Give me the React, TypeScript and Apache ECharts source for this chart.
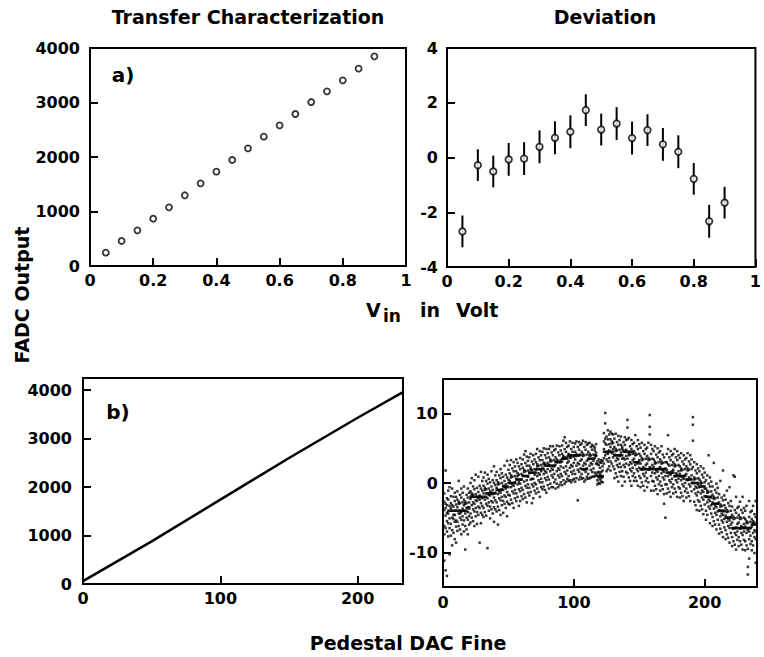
import React, { useEffect, useRef } from 'react';
import * as echarts from 'echarts';

// ---- data ----
const transferX = [0.05, 0.1, 0.15, 0.2, 0.25, 0.3, 0.35, 0.4, 0.45, 0.5, 0.55, 0.6, 0.65, 0.7, 0.75, 0.8, 0.85, 0.9];
const transferY = [245, 459, 654, 868, 1076, 1297, 1517, 1731, 1945, 2159, 2373, 2581, 2789, 3009, 3205, 3407, 3621, 3847];
const deviationY = [-2.7, -0.28, -0.51, -0.07, -0.04, 0.39, 0.72, 0.94, 1.73, 1.02, 1.24, 0.71, 1.0, 0.48, 0.21, -0.78, -2.33, -1.65];
const deviationErr = [0.58, 0.58, 0.58, 0.6, 0.6, 0.6, 0.6, 0.6, 0.58, 0.58, 0.6, 0.6, 0.58, 0.6, 0.6, 0.58, 0.6, 0.58];
const pedestalX = [0, 50, 100, 150, 200, 233];
const pedestalY = [60, 880, 1740, 2600, 3430, 3960];
// rows: [pedestal DAC value, deviation samples...]
const scatterRows: number[][] = [
  [1, -3.9, -6.2, -2.7, -7.4, -1.5, -11.2], [2, -4.7, -3.0, -6.5, -3.6, 1.8, -12.6], [3, -3.2, -5.5, -2.2, -7.0, -4.3, -13.4],
  [4, -4.4, -2.4, -5.8, -1.1, -7.7, -4.0], [5, -4.0, -6.5, -3.3, -0.6, -5.1, -10.3], [6, -3.6, -5.9, -2.9, -7.6, -4.0, -1.9],
  [7, -5.0, -3.2, -6.8, -4.0, -0.8, -9.0], [8, -3.4, -5.2, -2.0, -7.2, -4.0, -4.6], [9, -4.6, -2.6, -5.6, -1.4, -8.1, -4.0],
  [10, -4.0, -6.3, -3.1, -2.0, -5.4, -8.6], [11, -3.5, -5.6, -2.4, -6.9, -4.0, -1.2], [12, -4.4, -2.7, -6.2, -3.0, 0.3, -4.0],
  [13, -2.9, -5.0, -1.7, -6.7, -4.0, -4.4], [14, -4.2, -2.1, -5.3, -0.8, -7.4, -4.0], [15, -3.7, -6.0, -2.8, -1.4, -4.8, -4.0],
  [16, -3.2, -5.4, -2.4, -7.0, -4.0, -0.5], [17, -4.4, -2.7, -6.2, -3.0, -9.6, -4.0], [18, -2.9, -5.0, -1.7, -6.7, -3.6, -4.0],
  [19, -4.2, -2.1, -5.3, -0.8, -7.4, -3.5], [20, -3.7, -6.0, -2.8, -1.4, -4.8, -3.5], [21, -2.3, -4.4, -1.2, -5.7, 0.0, -2.0],
  [22, -3.2, -1.5, -5.0, -1.8, 0.7, -2.0], [23, -1.7, -3.8, -0.5, -5.5, -2.8, -2.0], [24, -3.0, -0.9, -4.1, 0.4, -6.2, -2.0],
  [25, -2.5, -4.8, -1.6, 1.2, -3.6, -2.0], [26, -2.0, -4.2, -0.7, -5.9, -2.6, -2.0], [27, -3.4, -1.3, -4.6, -2.2, 0.9, -2.0],
  [28, -1.8, -3.6, -0.4, -8.6, -2.4, -2.0], [29, -2.9, -0.8, -4.3, 1.6, -5.8, -2.0], [30, -2.2, -4.6, -1.1, 0.3, -3.3, -2.0],
  [31, -1.5, -3.6, -0.4, -4.9, 0.8, -2.0], [32, -2.4, -0.7, -4.2, -1.0, 1.5, -2.0], [33, -0.9, -3.0, 0.3, -4.7, -2.0, -1.5],
  [34, -2.2, -0.1, -3.3, 1.2, -9.4, -1.5], [35, -1.7, -4.0, -0.8, 0.6, -2.8, -1.5], [36, -1.2, -3.4, 0.1, -5.1, -1.8, -1.5],
  [37, -2.6, -0.5, -3.8, -1.4, 1.7, -1.5], [38, -1.0, -2.8, 0.4, -4.4, -1.6, -1.5], [39, -2.1, 0.0, -3.5, 2.4, -5.6, -1.5],
  [40, -1.4, -3.8, -0.3, 1.1, -2.5, -1.5], [41, -0.7, -2.8, 0.4, -4.1, 1.6, -1.0], [42, -1.6, 0.1, -3.4, -0.2, -6.0, -1.0],
  [43, -0.1, -2.2, 1.1, -3.9, -1.2, -1.0], [44, -1.4, 0.7, -2.5, 2.0, -4.6, -1.0], [45, -0.9, -3.2, 0.0, 1.4, -2.0, -1.0],
  [46, -0.4, -2.6, 0.9, -4.3, -1.0, -0.5], [47, -1.8, 0.3, -3.0, -0.6, 2.5, -0.5], [48, -0.2, -2.0, 1.2, -3.6, -0.8, -0.5],
  [49, -1.3, 0.8, -2.7, 3.2, -4.8, -0.5], [50, -0.6, -3.0, 0.5, 1.9, -1.7, 0.0], [51, 0.3, -1.8, 1.4, -3.1, 2.6, 0.0],
  [52, -0.6, 1.1, -2.4, 0.8, 3.3, 0.0], [53, 0.9, -1.2, 2.1, -2.9, -0.2, 0.0], [54, -0.4, 1.7, -1.5, 3.0, -3.6, 0.0],
  [55, 0.1, -2.2, 1.0, 2.4, -1.0, 0.0], [56, 0.6, -1.5, 1.7, -2.6, 3.4, 0.5], [57, -0.2, 1.4, -2.0, 1.0, 2.9, 0.5],
  [58, 1.2, -0.9, 2.4, -3.3, 0.1, 0.5], [59, -0.1, 2.0, -1.2, 3.6, -2.6, 0.5], [60, 0.5, -1.9, 1.3, 2.7, -0.7, 0.5],
  [61, 1.1, -1.0, 2.2, -2.3, 3.4, 1.0], [62, 0.2, 1.9, -1.6, 1.6, 4.1, 1.0], [63, 1.7, -0.4, 2.9, -2.1, 4.6, 1.0],
  [64, 0.4, 2.5, -0.7, 3.8, -2.8, 1.0], [65, 0.9, -1.4, 1.8, 3.2, -0.2, 1.0], [66, 1.4, -0.7, 2.5, -1.8, 3.7, 1.5],
  [67, 0.5, 2.2, -1.3, 1.9, 4.2, 1.5], [68, 1.9, -0.2, 3.1, -2.9, 0.6, 1.5], [69, 0.6, 2.7, -0.5, 4.0, -2.2, 1.5],
  [70, 1.2, -1.1, 2.0, 3.4, 0.0, 1.5], [71, 1.9, -0.2, 3.0, -1.5, 4.2, 1.5], [72, 1.0, 2.7, -0.8, 2.4, 4.9, 2.0],
  [73, 2.5, 0.4, 3.7, -1.3, 1.4, 2.0], [74, 1.2, 3.3, 0.1, 4.6, -2.0, 2.0], [75, 1.7, -0.6, 2.6, 4.0, 0.6, 2.0],
  [76, 2.2, 0.1, 3.3, -0.9, 4.5, 2.0], [77, 1.3, 2.9, -0.5, 2.7, 5.0, 2.0], [78, 2.8, 0.7, 4.0, -1.0, 1.7, 2.5],
  [79, 1.5, 3.6, 0.4, 4.9, -1.4, 2.5], [80, 2.0, -0.3, 2.9, 4.3, 0.9, 2.5], [81, 2.6, 0.5, 3.7, -0.8, 4.9, 2.5],
  [82, 1.7, 3.4, -0.1, 3.1, 5.3, 2.5], [83, 3.2, 1.1, 4.4, -0.6, 2.1, 2.5], [84, 1.9, 4.0, 0.8, 5.3, -0.6, 2.5],
  [85, 2.4, 0.1, 3.3, 4.7, 1.3, 2.5], [86, 2.6, 0.5, 3.7, -0.8, 4.9, 3.0], [87, 1.7, 3.4, -0.1, 3.1, 5.4, 3.0],
  [88, 3.2, 1.1, 4.4, -0.6, 2.1, 3.0], [89, 1.9, 4.0, 0.8, 5.3, -0.3, 3.0], [90, 2.4, 0.1, 3.3, 4.7, 1.3, 3.0],
  [91, 3.1, 1.0, 4.2, -0.3, 5.4, 3.5], [92, 2.2, 3.9, 0.4, 3.6, 6.1, 3.5], [93, 3.7, 1.6, 4.9, -0.1, 6.6, 3.5],
  [94, 2.4, 4.5, 1.3, 5.8, 0.2, 3.5], [95, 2.9, 0.6, 3.8, 5.2, 1.8, 3.5], [96, 3.1, 1.0, 4.2, 0.3, 5.4, 4.0],
  [97, 2.2, 3.9, 0.4, 3.6, 6.0, 4.0], [98, 3.7, 1.6, 4.9, 0.1, 2.6, 4.0], [99, 2.4, 4.5, 1.3, 5.8, 0.4, 4.0],
  [100, 2.9, 0.6, 3.8, 5.2, 1.8, 4.0], [101, 3.4, 1.3, 4.5, 0.2, 5.7, 4.0], [102, 2.5, 4.2, 0.7, 3.9, 6.0, 4.0],
  [103, 4.0, 1.9, 5.2, -2.5, 2.9, 4.0], [104, 2.7, 4.8, 1.6, 5.9, 0.5, 4.0], [105, 3.2, 0.9, 4.1, 5.5, 2.1, 4.0],
  [106, 3.4, 1.3, 4.5, 0.6, 5.7, 2.0], [107, 2.5, 4.2, 0.7, 3.9, 6.1, 2.0], [108, 4.0, 1.9, 5.2, 0.2, 2.9, 2.0],
  [109, 2.7, 4.8, 1.6, 5.9, 0.5, 2.0], [110, 3.2, 0.9, 4.1, 5.5, 2.1, 2.0], [111, 3.4, 1.3, 4.5, 0.6, 5.7, 3.5],
  [112, 2.5, 4.2, 0.7, 3.9, 5.8, 3.5], [113, 4.0, 1.9, 5.2, 0.8, 2.9, 3.5], [114, 2.7, 4.8, 1.6, 5.5, 0.9, 3.5],
  [115, 3.2, 0.9, 4.1, 5.3, 2.1, 3.5], [116, 3.6, 1.5, 4.7, 1.0, 5.1, 4.0], [117, 2.8, 4.4, 1.2, 3.9, 5.6, 4.0],
  [118, 1.5, -0.2, 2.7, 0.4, 3.1, 1.0], [119, 0.8, 2.6, 0.0, 3.4, 1.6, 1.0], [120, 1.3, -0.1, 2.2, 3.0, 0.5, 1.0],
  [121, 1.6, 0.2, 2.9, 0.7, 3.3, 1.0], [122, 0.9, 2.4, 0.1, 3.2, 1.8, 1.0], [123, 4.9, 2.8, 6.0, 3.6, 7.2, 4.5],
  [124, 4.0, 5.7, 10.1, 8.6, 6.4, 4.5], [125, 5.5, 3.4, 6.7, 1.7, 4.4, 4.5], [126, 4.2, 6.3, 3.1, 7.6, 2.0, 4.5],
  [127, 4.7, 2.4, 5.6, 7.0, 3.6, 4.5], [128, 5.2, 3.1, 6.3, 1.8, 7.4, 4.5], [129, 4.3, 6.0, 2.8, 5.7, 7.1, 4.5],
  [130, 5.8, 3.7, 7.0, 2.4, 4.9, 4.5], [131, 4.1, 2.0, 5.2, 0.7, 6.4, 4.0], [132, 3.2, 4.9, 1.4, 4.6, 7.1, 4.0],
  [133, 4.7, 2.6, 5.9, 0.9, 3.6, 4.0], [134, 3.4, 5.5, 2.3, 6.8, 0.2, 4.0], [135, 3.9, 1.6, 4.8, 6.2, 2.8, 4.0],
  [136, 4.4, 2.3, 5.5, 1.0, 6.7, 4.0], [137, 3.5, 5.2, 1.7, 4.9, -0.4, 4.0], [138, 4.7, 2.6, 5.9, 0.9, 3.6, 4.5],
  [139, 3.4, 5.5, 2.3, 6.6, 0.2, 4.5], [140, 3.9, 1.6, 4.8, 6.2, 2.8, 4.5], [141, 3.5, 1.4, 9.1, 8.0, 6.3, 4.5],
  [142, 2.6, 4.3, 0.8, 4.0, 6.5, 4.5], [143, 4.1, 2.0, 5.3, 0.3, 3.0, 4.5], [144, 2.8, 4.9, 1.7, 6.2, -0.4, 4.5],
  [145, 3.3, 1.0, 4.2, 5.6, 2.2, 4.5], [146, 3.5, 1.4, 4.6, 0.3, 5.8, 3.0], [147, 2.6, 4.3, 0.8, 4.0, 6.9, 3.0],
  [148, 4.1, 2.0, 5.3, 0.3, 3.0, 3.0], [149, 2.8, 4.9, 1.7, 6.2, -0.4, 3.0], [150, 3.3, 1.0, 4.2, 5.6, 2.2, 3.0],
  [151, 2.8, 0.7, 3.9, -0.6, 5.1, 2.0], [152, 1.9, 3.6, 0.1, 3.3, 5.8, 2.0], [153, 3.4, 1.3, 4.6, -0.4, 2.3, 2.0],
  [154, 2.1, 4.2, 1.0, 5.5, -1.1, 2.0], [155, 2.6, 0.3, 3.5, 4.9, 1.5, 2.0], [156, 2.8, 0.7, 3.9, -0.6, 5.1, 2.0],
  [157, 1.9, 3.6, 0.1, 3.3, 5.8, 2.0], [158, 3.4, 9.8, 8.1, 7.0, 2.3, 2.0], [159, 2.1, 4.2, 1.0, 5.5, -1.1, 2.0],
  [160, 2.6, 0.3, 3.5, 4.9, 1.5, 2.0], [161, 2.3, 0.2, 3.4, -1.1, 4.6, 2.0], [162, 1.4, 3.1, -0.4, 2.8, 5.3, 2.0],
  [163, 2.9, 0.8, 4.1, -0.9, 1.8, 2.0], [164, 1.6, 3.7, 0.5, 5.0, -1.6, 2.0], [165, 2.1, -0.2, 3.0, 4.4, 1.0, 2.0],
  [166, 2.3, 0.2, 3.4, -1.1, 4.6, 2.0], [167, 1.4, 3.1, -0.4, 2.8, 5.3, 2.0], [168, 2.9, 0.8, 4.1, -0.9, 1.8, 2.0],
  [169, 1.6, 3.7, 0.5, -3.0, -1.6, 2.0], [170, 2.1, -0.2, 3.0, -5.0, 1.0, 2.0], [171, 1.9, -0.2, 3.0, -1.5, 4.2, 1.5],
  [172, 1.0, 2.7, -0.8, 6.9, 4.9, 1.5], [173, 2.5, 0.4, 3.7, -1.3, 1.4, 1.5], [174, 1.2, 3.3, 0.1, 4.6, -2.0, 1.5],
  [175, 1.7, -0.6, 2.6, 4.0, 0.6, 1.5], [176, 1.9, -0.2, 3.0, -1.5, 4.2, 1.5], [177, 1.0, 2.7, -0.8, 2.4, 4.9, 1.0],
  [178, 2.5, 0.4, 3.7, -1.3, 1.4, 1.0], [179, 1.2, 3.3, 0.1, 4.6, -2.0, 1.0], [180, 1.7, -0.6, 2.6, 4.0, 0.6, 1.0],
  [181, 1.3, -0.8, 2.4, -2.1, 3.6, 1.0], [182, 0.4, 2.1, -1.4, 1.8, 4.3, 1.0], [183, 1.9, -0.2, 3.1, -1.9, 0.8, 1.0],
  [184, 0.6, 2.7, -0.5, 4.0, -2.6, 1.0], [185, 1.1, -1.2, 2.0, 3.4, 0.0, 1.0], [186, 1.3, -0.8, 2.4, -2.1, 3.6, 0.5],
  [187, 0.4, 2.1, -1.4, 1.8, 4.3, 0.5], [188, 1.9, -0.2, 3.1, -1.9, 0.8, 0.5], [189, 0.6, 2.7, -0.5, 4.0, -2.6, 0.5],
  [190, 1.1, -1.2, 2.0, 3.4, 0.0, 0.5], [191, 0.0, 9.5, 8.4, 6.1, 2.3, 0.0], [192, -0.9, 0.8, -2.7, 0.5, 3.0, 0.0],
  [193, 0.6, -1.5, 1.8, -3.2, -0.5, 0.0], [194, -0.7, 1.4, -1.8, 2.7, -3.9, 0.0], [195, -0.2, -2.5, 0.7, 2.1, -1.3, 0.0],
  [196, -0.6, -2.7, 0.5, -4.0, 1.7, -0.5], [197, -1.5, 0.2, -3.3, -0.1, 2.4, -0.5], [198, 0.0, -2.1, 1.2, -3.8, -1.1, -0.5],
  [199, -1.3, 0.8, -2.4, 2.1, -4.5, -0.5], [200, -0.8, -3.1, 0.1, 1.5, -1.9, -0.5], [201, -1.9, -4.0, -0.8, -5.3, 0.4, -2.0],
  [202, -2.8, -1.1, -4.6, -1.4, 1.1, -2.0], [203, -1.3, -3.4, -0.1, 4.0, -2.4, -2.0], [204, -2.6, -0.5, -3.7, 0.8, -5.8, -2.0],
  [205, -2.1, -4.4, -1.2, 0.2, -3.2, -2.0], [206, -2.8, -4.9, -1.7, -6.2, -0.5, -3.0], [207, -3.7, -2.0, -5.5, -2.3, 2.9, -3.0],
  [208, -2.2, -4.3, -1.0, -6.0, -3.3, -3.0], [209, -3.5, -1.4, -4.6, -0.1, -6.7, -3.0], [210, -3.0, -5.3, -2.1, -0.7, -4.1, -3.0],
  [211, -3.9, -6.0, -2.8, -7.3, -1.6, -4.0], [212, -4.8, -3.1, -6.6, -3.4, 0.3, -4.0], [213, -3.3, -5.4, -2.1, -7.1, -4.4, -4.0],
  [214, -4.6, -2.5, -5.7, 1.8, -7.8, -4.0], [215, -4.1, -6.4, -3.2, -1.8, -5.2, -4.0], [216, -4.7, -6.8, -3.6, -8.1, -2.4, -5.0],
  [217, -5.6, -3.9, -7.4, -4.2, -1.1, -5.0], [218, -4.1, -6.2, -2.9, -7.9, -5.2, -5.0], [219, -5.4, -3.3, -6.5, -0.6, -8.6, -5.0],
  [220, -4.9, -7.2, -4.0, -2.6, -6.0, -5.0], [221, -5.7, -7.8, -4.6, -9.1, -3.4, -6.5], [222, -6.6, -4.9, -8.4, -5.2, 1.1, -6.5],
  [223, -5.1, -7.2, -3.9, -8.9, 0.9, -6.5], [224, -6.4, -4.3, -7.5, -2.0, -9.6, -6.5], [225, -5.9, -8.2, -5.0, -3.6, -7.0, -6.5],
  [226, -5.7, -7.8, -4.6, -9.1, -3.4, -6.5], [227, -6.6, -4.9, -8.4, -5.2, -2.7, -6.5], [228, -5.1, -7.2, -3.9, -8.9, -6.2, -6.5],
  [229, -6.4, -4.3, -7.5, -2.0, -9.6, -6.5], [230, -5.9, -8.2, -5.0, -3.6, -7.0, -6.5], [231, -6.3, -8.4, -5.2, -9.7, -4.0, -6.5],
  [232, -7.2, -5.5, -9.0, -5.8, -3.3, -6.5], [233, -5.7, -12.1, -13.2, -9.5, -6.8, -6.5], [234, -7.0, -4.9, -8.1, -2.6, -10.9, -6.5],
  [235, -6.5, -8.8, -5.6, -4.2, -7.6, -6.5], [236, -6.3, -8.4, -5.2, -9.7, -4.0, -6.0], [237, -7.2, -5.5, -9.0, -5.8, -3.3, -6.0],
  [238, -5.7, -7.8, -4.5, -10.1, -6.8, -6.0], [239, -7.0, -4.9, -8.1, -2.6, -11.5, -6.0],
];

// tick values
const voltTicks = [0, 0.2, 0.4, 0.6, 0.8, 1];
const transferYTicks = [0, 1000, 2000, 3000, 4000];
const deviationYTicks = [-4, -2, 0, 2, 4];
const dacTicks = [0, 100, 200];
const pedestalYTicks = [0, 1000, 2000, 3000, 4000];
const scatterYTicks = [-10, 0, 10];

const FONT = 'DejaVu Sans';

function axis(gridIndex: number, min: number, max: number, ticks: number[], margin: number) {
  return {
    type: 'value',
    gridIndex,
    min,
    max,
    axisLine: { show: false, onZero: false },
    splitLine: { show: false },
    axisTick: { show: true, inside: true, length: 8, customValues: ticks, lineStyle: { color: '#000', width: 2 } },
    axisLabel: {
      show: true,
      customValues: ticks,
      margin,
      color: '#000',
      fontFamily: FONT,
      fontWeight: 'bold',
      fontSize: 16,
      formatter: (v: number) => String(v),
    },
  };
}

function txt(text: string, x: number, y: number, size: number, align = 'center', rotation = 0) {
  return {
    type: 'text',
    x,
    y,
    rotation,
    style: { text, fill: '#000', fontFamily: FONT, fontWeight: 'bold', fontSize: size, align, verticalAlign: 'middle' },
  };
}

export default function App() {
  const ref = useRef<HTMLDivElement>(null);
  useEffect(() => {
    if (!ref.current) return;
    const chart = echarts.init(ref.current, undefined, { renderer: 'svg' });
    const scatterData: number[][] = [];
    scatterRows.forEach((row) => {
      for (let i = 1; i < row.length; i++) scatterData.push([row[0], row[i]]);
    });
    const gridBase = { show: true, borderColor: '#000', borderWidth: 2, backgroundColor: 'transparent', containLabel: false };
    const option: any = {
      animation: false,
      backgroundColor: '#fff',
      grid: [
        { ...gridBase, left: 90, top: 48, width: 316, height: 218 },
        { ...gridBase, left: 447, top: 48, width: 315, height: 219 },
        { ...gridBase, left: 83, top: 378, width: 320, height: 206 },
        { ...gridBase, left: 443, top: 379, width: 314, height: 208 },
      ],
      xAxis: [
        axis(0, 0, 1, voltTicks, 6),
        axis(1, 0, 1, voltTicks, 6),
        axis(2, 0, 233, dacTicks, 6),
        axis(3, 0, 240, dacTicks, 7),
      ],
      yAxis: [
        axis(0, 0, 4000, transferYTicks, 10),
        axis(1, -4, 4, deviationYTicks, 9),
        axis(2, 0, 4250, pedestalYTicks, 11),
        axis(3, -15, 15, scatterYTicks, 5),
      ],
      series: [
        {
          type: 'scatter',
          xAxisIndex: 0,
          yAxisIndex: 0,
          symbol: 'circle',
          symbolSize: 6,
          itemStyle: { color: '#fff', borderColor: '#000', borderWidth: 1.8 },
          data: transferX.map((x, i) => [x, transferY[i]]),
        },
        {
          type: 'custom',
          xAxisIndex: 1,
          yAxisIndex: 1,
          encode: { x: 0, y: 1 },
          data: transferX.map((x, i) => [x, deviationY[i], deviationErr[i]]),
          renderItem: (_p: any, api: any) => {
            const x = api.value(0);
            const y = api.value(1);
            const e = api.value(2);
            const a = api.coord([x, y + e]);
            const b = api.coord([x, y - e]);
            return {
              type: 'line',
              shape: { x1: a[0], y1: a[1], x2: b[0], y2: b[1] },
              style: { stroke: '#000', lineWidth: 2 },
            };
          },
          z: 2,
        },
        {
          type: 'scatter',
          xAxisIndex: 1,
          yAxisIndex: 1,
          symbol: 'circle',
          symbolSize: 6.5,
          itemStyle: { color: '#fff', borderColor: '#000', borderWidth: 1.8 },
          data: transferX.map((x, i) => [x, deviationY[i]]),
          z: 3,
        },
        {
          type: 'line',
          xAxisIndex: 2,
          yAxisIndex: 2,
          showSymbol: false,
          symbol: 'none',
          lineStyle: { color: '#000', width: 2.5 },
          data: pedestalX.map((x, i) => [x, pedestalY[i]]),
        },
        {
          type: 'scatter',
          xAxisIndex: 3,
          yAxisIndex: 3,
          symbol: 'rect',
          symbolSize: 2.5,
          itemStyle: { color: '#000' },
          data: scatterData,
          large: false,
        },
      ],
      graphic: [
        txt('Transfer Characterization', 248, 17, 19),
        txt('Deviation', 605, 17, 19),
        txt('a)', 123, 75, 20),
        txt('b)', 118, 412, 20),
        txt('FADC Output', 22, 295, 19, 'center', Math.PI / 2),
        txt('V', 366, 310, 19, 'left'),
        txt('in', 383, 316, 17, 'left'),
        txt('in', 420, 310, 19, 'left'),
        txt('Volt', 456, 310, 19, 'left'),
        txt('Pedestal DAC Fine', 408, 643, 19),
      ],
    };
    chart.setOption(option);
    return () => chart.dispose();
  }, []);
  return (
    <div
      ref={ref}
      style={{ position: 'absolute', left: 0, top: 0, width: 764, height: 657, background: '#fff' }}
    />
  );
}
